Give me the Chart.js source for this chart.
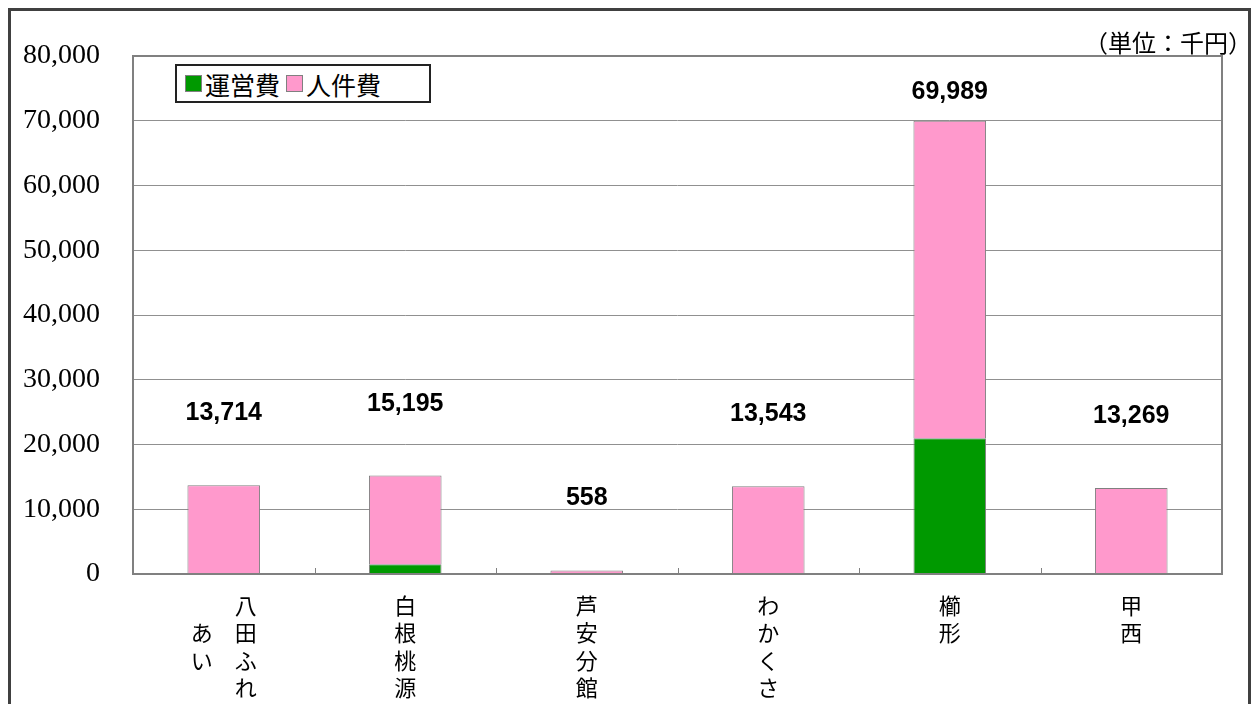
<!DOCTYPE html>
<html>
<head>
<meta charset="utf-8">
<script src="https://cdn.jsdelivr.net/npm/chart.js@4/dist/chart.umd.min.js"></script>
<style>
  html, body { margin: 0; padding: 0; background: #fff; overflow: hidden; }
  #wrap { position: relative; width: 1260px; height: 704px; }
  #frame { position: absolute; left: 8px; top: 8px; width: 1237px; height: 740px; border: 3px solid #404040; }
  #unit { position: absolute; right: 8px; top: 24px; font: 24px "Noto Sans CJK JP", sans-serif; color: #000; letter-spacing: 0px; }
  #legend { position: absolute; left: 175px; top: 64px; width: 244px; height: 35px; border: 2px solid #222; background: #fff;
            font: 25px "Noto Sans CJK JP", sans-serif; display: flex; align-items: center; padding-left: 8px; box-sizing: content-box; }
  #legend span.sw { display: inline-block; width: 15px; height: 15px; border: 1px solid #808080; margin-right: 3px; }
  #legend span.it { margin-right: 6px; display: flex; align-items: center; }
  canvas { position: absolute; left: 0; top: 0; }
</style>
</head>
<body>
<div id="wrap">
  <div id="frame"></div>
  <canvas id="chart" width="1260" height="704"></canvas>
  <div id="unit">（単位：千円）</div>
  <div id="legend"></div>
</div>
<script>
const categories = ['八田ふれあい', '白根桃源', '芦安分館', 'わかくさ', '櫛形', '甲西'];
const operating = [0, 1500, 0, 0, 20950, 0];        // 運営費
const personnel = [13714, 13695, 558, 13543, 49039, 13269]; // 人件費
const yTicks = [0, 10000, 20000, 30000, 40000, 50000, 60000, 70000, 80000];

// vertical writing: columns of 4 chars, right to left, centered vertically
function verticalLines(name) {
  const cols = [];
  for (let i = 0; i < name.length; i += 4) cols.push(name.slice(i, i + 4).split(''));
  const rows = cols[0].length;
  const padded = cols.map(c => {
    const top = Math.floor((rows - c.length) / 2);
    const arr = Array(rows).fill('\u3000');
    c.forEach((ch, k) => arr[top + k] = ch);
    return arr;
  });
  const lines = [];
  for (let r = 0; r < rows; r++) {
    lines.push(padded.slice().reverse().map(c => c[r]).join('\u2003'));
  }
  return lines;
}

const totals = categories.map((c, i) => operating[i] + personnel[i]);

const totalLabels = {
  id: 'totalLabels',
  afterDatasetsDraw(chart) {
    const ctx = chart.ctx;
    const x = chart.scales.x, y = chart.scales.y;
    ctx.save();
    ctx.font = 'bold 25px "Liberation Sans Narrow", "Liberation Sans", Arial, sans-serif';
    ctx.fillStyle = '#000';
    ctx.textAlign = 'center';
    ctx.textBaseline = 'middle';
    totals.forEach((t, i) => {
      const py = Math.max(y.getPixelForValue(t) - 72, chart.chartArea.top + 36);
      ctx.fillText(t.toLocaleString('en-US'), x.getPixelForValue(i), py);
    });
    // small ticks between categories on the axis
    ctx.strokeStyle = '#808080';
    ctx.lineWidth = 1;
    for (let i = 1; i < categories.length; i++) {
      const px = Math.round((x.getPixelForValue(i - 1) + x.getPixelForValue(i)) / 2) + 0.5;
      ctx.beginPath();
      ctx.moveTo(px, chart.chartArea.bottom);
      ctx.lineTo(px, chart.chartArea.bottom - 6);
      ctx.stroke();
    }
    // plot border
    const a = chart.chartArea;
    ctx.strokeStyle = '#808080';
    ctx.lineWidth = 2;
    ctx.strokeRect(a.left, a.top, a.right - a.left, a.bottom - a.top);
    ctx.restore();
  }
};

const ctx = document.getElementById('chart').getContext('2d');
const chart = new Chart(ctx, {
  type: 'bar',
  data: {
    labels: categories.map(verticalLines),
    datasets: [
      { label: '運営費', data: operating, backgroundColor: '#009900', borderColor: '#808080', borderWidth: 1,
        barPercentage: 0.4, categoryPercentage: 1 },
      { label: '人件費', data: personnel, backgroundColor: '#FF99CC', borderColor: '#808080', borderWidth: 1,
        barPercentage: 0.4, categoryPercentage: 1 }
    ]
  },
  options: {
    responsive: false,
    animation: false,
    layout: { padding: { top: 56, right: 38, left: 0, bottom: 0 } },
    plugins: { legend: { display: false }, tooltip: { enabled: false } },
    scales: {
      x: {
        stacked: true,
        grid: { display: false },
        border: { display: false },
        ticks: {
          color: '#000', padding: 10, maxRotation: 0, autoSkip: false,
          font: { family: '"Noto Sans CJK JP", sans-serif', size: 22, lineHeight: 1.24 }
        },
        afterFit(s) { s.height = 130; }
      },
      y: {
        stacked: true,
        min: 0, max: 80000,
        afterBuildTicks(s) { s.ticks = yTicks.map(v => ({ value: v })); },
        grid: { color: '#909090', lineWidth: 1, drawTicks: false },
        border: { display: false },
        ticks: {
          color: '#000', padding: 33,
          font: { family: '"Liberation Serif", serif', size: 28 },
          callback: v => v.toLocaleString('en-US')
        },
        afterFit(s) { s.width = 133; }
      }
    }
  },
  plugins: [totalLabels]
});

// legend built from datasets
const lg = document.getElementById('legend');
chart.data.datasets.forEach(ds => {
  const it = document.createElement('span');
  it.className = 'it';
  it.innerHTML = '<span class="sw" style="background:' + ds.backgroundColor + '"></span>' + ds.label;
  lg.appendChild(it);
});
</script>
</body>
</html>
